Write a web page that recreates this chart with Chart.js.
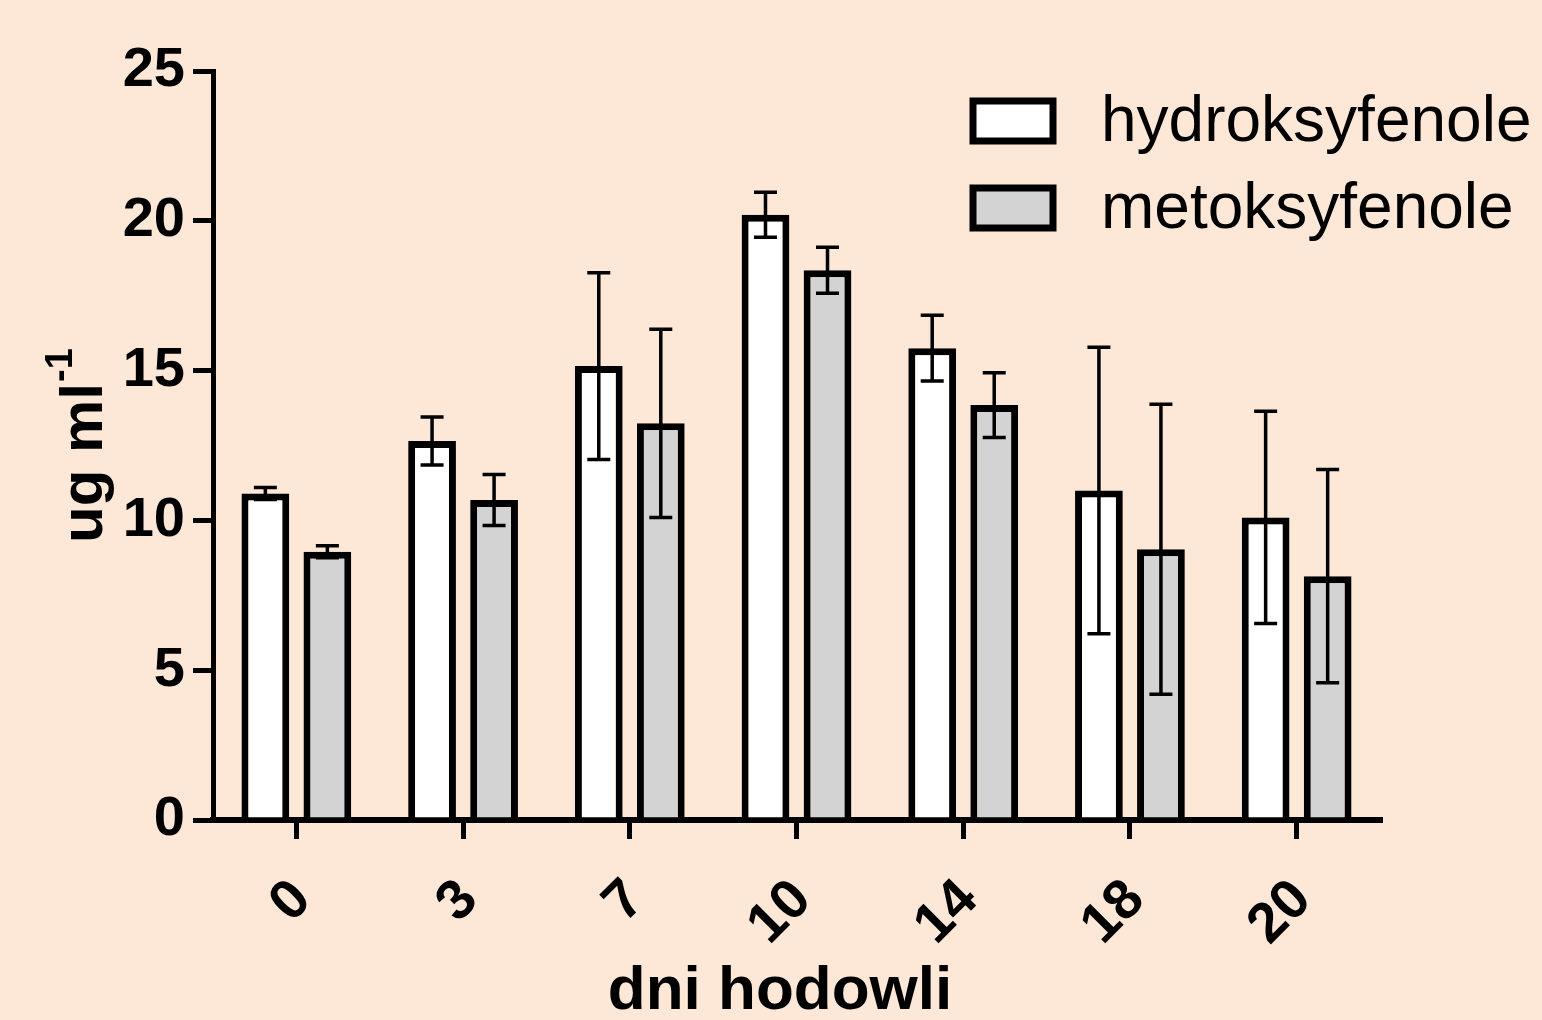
<!DOCTYPE html>
<html>
<head>
<meta charset="utf-8">
<script src="https://cdn.jsdelivr.net/npm/chart.js@4.4.1/dist/chart.umd.min.js"></script>
<style>
    html, body { margin: 0; padding: 0; background: #fde8d8; }
    canvas { display: block; }
</style>
</head>
<body>
<canvas id="chart" width="1542" height="1020"></canvas>
<script>
    const days = ['0', '3', '7', '10', '14', '18', '20'];
    const hydroksy = [10.9, 12.65, 15.15, 20.2, 15.75, 11.0, 10.1];
    const hydroksyErr = [0.2, 0.8, 3.12, 0.75, 1.1, 4.78, 3.54];
    const metoksy = [8.95, 10.68, 13.24, 18.35, 13.85, 9.04, 8.14];
    const metoksyErr = [0.2, 0.85, 3.14, 0.77, 1.08, 4.84, 3.56];
    const yTicks = [0, 5, 10, 15, 20, 25];

    const FONT = "'Liberation Sans', Arial, sans-serif";

    const errorBars = {
        id: 'errorBars',
        afterDatasetsDraw(chart) {
            const ctx = chart.ctx;
            const y = chart.scales.y;
            ctx.save();
            ctx.strokeStyle = '#000';
            ctx.lineWidth = 3.5;
            chart.data.datasets.forEach((ds, i) => {
                chart.getDatasetMeta(i).data.forEach((bar, j) => {
                    const v = ds.data[j], e = ds.errors[j];
                    const top = y.getPixelForValue(v + e);
                    const bot = y.getPixelForValue(v - e);
                    ctx.beginPath();
                    ctx.moveTo(bar.x, top);
                    ctx.lineTo(bar.x, bot);
                    ctx.moveTo(bar.x - 11.5, top);
                    ctx.lineTo(bar.x + 11.5, top);
                    ctx.moveTo(bar.x - 11.5, bot);
                    ctx.lineTo(bar.x + 11.5, bot);
                    ctx.stroke();
                });
            });
            ctx.restore();
        }
    };

    const labelsAndLegend = {
        id: 'labelsAndLegend',
        afterDraw(chart) {
            const ctx = chart.ctx;
            ctx.save();
            ctx.fillStyle = '#000';

            // y title with superscript
            ctx.save();
            ctx.translate(102, 543);
            ctx.rotate(-Math.PI / 2);
            ctx.font = 'bold 60px ' + FONT;
            ctx.textAlign = 'left';
            ctx.textBaseline = 'alphabetic';
            ctx.fillText('ug ml', 0, 0);
            const w = ctx.measureText('ug ml').width;
            ctx.font = 'bold 38px ' + FONT;
            ctx.fillText('-1', w + 1, -30);
            ctx.restore();

            // x title
            ctx.font = 'bold 62px ' + FONT;
            ctx.textAlign = 'center';
            ctx.textBaseline = 'alphabetic';
            ctx.fillText('dni hodowli', 780, 1009);

            // legend
            ctx.font = '64px ' + FONT;
            ctx.textAlign = 'left';
            ctx.textBaseline = 'middle';
            chart.data.datasets.forEach((ds, i) => {
                const cy = 121 + i * 87;
                ctx.fillStyle = ds.backgroundColor;
                ctx.fillRect(973, cy - 20, 80, 40);
                ctx.strokeStyle = '#000';
                ctx.lineWidth = 7;
                ctx.strokeRect(973, cy - 20, 80, 40);
                ctx.fillStyle = '#000';
                ctx.fillText(ds.label, 1101, cy + 2);
            });
            ctx.restore();
        }
    };

    new Chart(document.getElementById('chart'), {
        type: 'bar',
        data: {
            labels: days,
            datasets: [{
                label: 'hydroksyfenole',
                data: hydroksy,
                errors: hydroksyErr,
                backgroundColor: '#ffffff',
                borderColor: '#000000',
                borderWidth: 7,
                categoryPercentage: 0.744,
                barPercentage: 0.77
            }, {
                label: 'metoksyfenole',
                data: metoksy,
                errors: metoksyErr,
                backgroundColor: '#d3d3d3',
                borderColor: '#000000',
                borderWidth: 7,
                categoryPercentage: 0.744,
                barPercentage: 0.77
            }]
        },
        options: {
            responsive: false,
            devicePixelRatio: 1,
            animation: false,
            layout: { padding: { top: 71, right: 162, left: 0, bottom: 0 } },
            plugins: {
                legend: { display: false },
                tooltip: { enabled: false }
            },
            scales: {
                x: {
                    offset: true,
                    afterFit: s => { s.height = 200; },
                    border: { display: true, color: '#000', width: 6 },
                    grid: { offset: false, drawOnChartArea: false, drawTicks: true, tickLength: 19, lineWidth: 5, color: '#000' },
                    ticks: {
                        color: '#000',
                        font: { family: FONT, size: 56, weight: 'bold' },
                        minRotation: 45,
                        maxRotation: 45,
                        padding: 28,
                        labelOffset: 6
                    }
                },
                y: {
                    min: 0,
                    max: 25,
                    afterFit: s => { s.width = 213; },
                    afterBuildTicks: s => { s.ticks = yTicks.map(v => ({ value: v })); },
                    border: { display: true, color: '#000', width: 5 },
                    grid: { drawOnChartArea: false, drawTicks: true, tickLength: 20, lineWidth: 5, color: '#000' },
                    ticks: {
                        color: '#000',
                        font: { family: FONT, size: 56, weight: 'bold' },
                        padding: 8
                    }
                }
            }
        },
        plugins: [errorBars, labelsAndLegend]
    });
</script>
</body>
</html>
